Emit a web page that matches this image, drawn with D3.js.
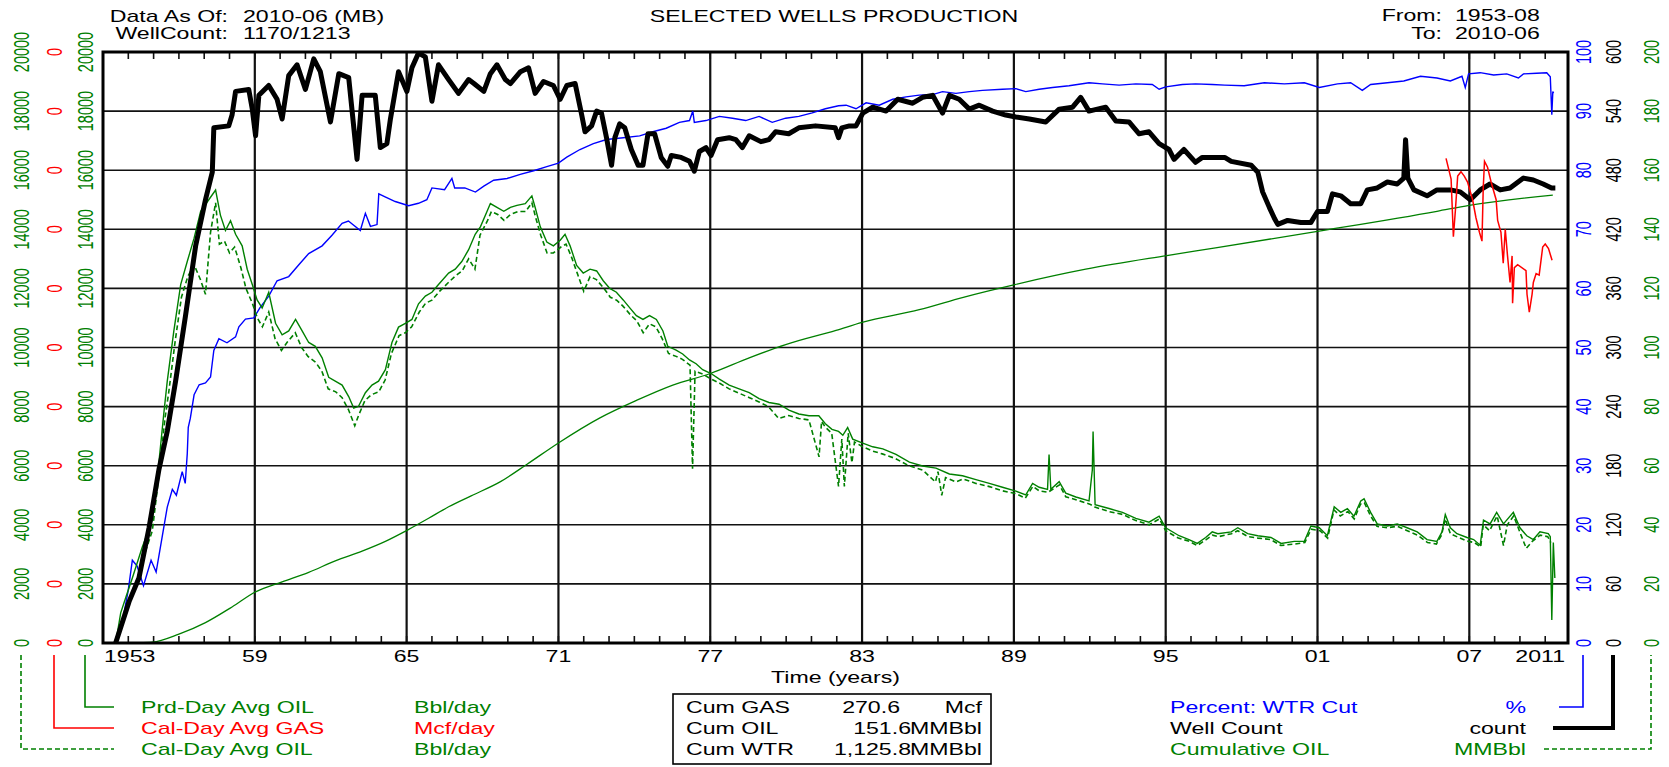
<!DOCTYPE html>
<html><head><meta charset="utf-8">
<script src="https://cdn.jsdelivr.net/npm/d3@7"></script>
<style>body{margin:0;background:#fff;} svg{display:block;font-family:"Liberation Sans",Arial,sans-serif;}</style>
</head><body>
<svg id="chart" width="1669" height="767"></svg>
<script>
// ---------------- DATA ----------------
const wellCount = [ // [year, count]
[1953.5,0],[1954.03,42],[1954.42,66],[1954.82,117],[1955.21,176],[1955.54,215],[1955.87,266],[1956.26,332],[1956.66,403],[1957.05,450],[1957.32,478],[1957.38,523],[1957.97,525],[1958.1,536],[1958.24,560],[1958.76,562],[1958.9,542],[1959.03,515],[1959.16,556],[1959.55,566],[1959.88,552],[1960.08,532],[1960.34,576],[1960.67,587],[1961.0,562],[1961.33,593],[1961.59,580],[1961.99,529],[1962.32,578],[1962.71,574],[1963.04,491],[1963.24,556],[1963.76,556],[1963.96,503],[1964.22,507],[1964.36,532],[1964.68,580],[1965.01,560],[1965.21,584],[1965.47,599],[1965.74,595],[1966.0,550],[1966.26,587],[1966.66,572],[1967.05,558],[1967.45,572],[1967.66,568],[1968.05,560],[1968.31,578],[1968.57,587],[1968.9,572],[1969.1,568],[1969.5,580],[1969.82,584],[1970.08,558],[1970.41,570],[1970.8,566],[1971.07,552],[1971.33,566],[1971.66,568],[1971.92,536],[1972.05,519],[1972.31,525],[1972.51,540],[1972.7,538],[1972.9,513],[1973.1,485],[1973.23,513],[1973.42,527],[1973.62,523],[1973.88,501],[1974.15,485],[1974.34,485],[1974.54,517],[1974.8,517],[1975.06,493],[1975.32,484],[1975.46,495],[1975.85,493],[1976.18,489],[1976.37,479],[1976.57,499],[1976.83,503],[1977.03,495],[1977.29,511],[1977.75,513],[1978.01,511],[1978.27,503],[1978.54,515],[1979.0,509],[1979.32,511],[1979.58,519],[1980.1,517],[1980.5,523],[1981.16,525],[1981.94,523],[1982.07,513],[1982.2,523],[1982.5,525],[1982.76,525],[1983.03,538],[1983.42,544],[1983.95,540],[1984.41,552],[1985.0,548],[1985.39,554],[1985.79,556],[1986.18,538],[1986.45,556],[1986.84,552],[1987.24,542],[1987.63,546],[1988.16,540],[1988.68,536],[1989.08,534],[1989.61,532],[1990.26,529],[1990.79,542],[1991.32,544],[1991.64,554],[1991.97,540],[1992.63,544],[1993.03,530],[1993.55,529],[1993.95,517],[1994.34,519],[1994.74,507],[1995.13,501],[1995.33,491],[1995.72,501],[1996.18,488],[1996.45,493],[1997.33,493],[1997.59,489],[1998.38,485],[1998.64,478],[1998.83,458],[1999.1,442],[1999.3,431],[1999.43,425],[1999.82,429],[2000.34,427],[2000.74,427],[2001.0,438],[2001.39,438],[2001.59,456],[2001.92,454],[2002.31,446],[2002.71,446],[2002.97,460],[2003.36,462],[2003.76,468],[2004.15,466],[2004.41,472],[2004.48,511],[2004.57,472],[2004.81,460],[2005.33,454],[2005.72,460],[2006.25,460],[2006.64,458],[2007.04,450],[2007.43,460],[2007.82,466],[2008.22,460],[2008.61,462],[2009.14,472],[2009.53,470],[2009.92,466],[2010.25,462],[2010.4,462]
];
const waterCut = [ // [year, %]
[1953.83,5],[1954.0,9],[1954.16,14],[1954.35,13],[1954.6,9.7],[1954.9,14],[1955.1,12],[1955.34,18],[1955.54,23],[1955.74,26],[1955.9,25],[1956.13,29],[1956.25,27],[1956.33,32],[1956.37,36.5],[1956.45,38],[1956.6,42],[1956.8,43.7],[1957.05,44],[1957.25,45],[1957.38,49.5],[1957.58,51.5],[1957.9,50.8],[1958.24,51.8],[1958.37,53.5],[1958.63,54.8],[1958.96,55],[1959.2,56.7],[1959.55,58.7],[1959.88,61.3],[1960.34,62],[1960.74,64],[1961.13,65.9],[1961.66,67.2],[1962.05,69],[1962.45,71],[1962.7,71.4],[1963.17,69.8],[1963.37,72.7],[1963.57,70.5],[1963.83,70.8],[1963.9,76],[1964.15,75.5],[1964.55,74.7],[1965.08,74],[1965.47,74.4],[1965.8,75],[1966.0,77],[1966.5,76.7],[1966.79,78.6],[1966.9,77],[1967.3,77],[1967.72,76.3],[1968.05,77.3],[1968.44,78.3],[1968.97,78.6],[1969.49,79.3],[1970.02,79.9],[1970.54,80.6],[1971.0,81.2],[1971.33,82.2],[1971.85,83.5],[1972.38,84.5],[1972.9,85.2],[1973.56,85.5],[1974.21,85.8],[1974.73,86.5],[1975.26,87.1],[1975.78,88.1],[1976.18,88.4],[1976.31,90],[1976.37,88.1],[1976.83,88.4],[1977.36,89.1],[1977.88,88.8],[1978.4,88.4],[1978.93,89.1],[1979.45,88.1],[1979.98,88.8],[1980.5,89.1],[1981.03,89.7],[1981.55,90.4],[1982.07,90.9],[1982.37,91],[1982.76,90.4],[1983.16,91.4],[1983.68,91],[1984.21,92],[1984.74,92.4],[1985.26,92.7],[1985.79,92.8],[1986.18,93.3],[1986.71,93],[1987.24,93.3],[1987.76,93.5],[1988.55,93.7],[1989.08,93.8],[1989.47,93.3],[1990.0,93.7],[1990.53,94],[1991.18,94.3],[1991.97,94.8],[1992.5,94.6],[1993.16,94.4],[1993.82,94.6],[1994.47,94.5],[1994.74,93.7],[1995.0,94.1],[1995.66,94.5],[1996.18,94.6],[1996.84,94.5],[1997.33,94.4],[1998.1,94.3],[1998.9,94.8],[1999.69,94.6],[2000.48,94.8],[2001.07,94],[2001.79,94.6],[2002.31,94.8],[2002.77,93.5],[2003.1,94.5],[2003.76,94.8],[2004.41,95.1],[2005.07,95.9],[2005.72,95.6],[2006.25,95.1],[2006.71,95.9],[2006.84,94],[2006.97,96.3],[2007.43,96.5],[2007.96,96.1],[2008.48,96.3],[2008.94,95.6],[2009.14,96.3],[2009.66,96.4],[2010.06,96.5],[2010.2,95.8],[2010.26,89.4],[2010.3,93.3],[2010.33,93]
];
const prdOil = [ // [year, Bbl/day] producing-day average
[1953.5,0],[1953.7,1020],[1953.9,1540],[1954.16,2200],[1954.55,3240],[1954.95,4160],[1955.21,6120],[1955.41,7820],[1955.54,8860],[1955.8,10560],[1956.07,12130],[1956.33,12910],[1956.6,13700],[1956.86,14610],[1957.18,15000],[1957.45,15330],[1957.64,14480],[1957.84,13960],[1958.04,14290],[1958.24,13830],[1958.5,13440],[1958.7,12650],[1958.9,12130],[1959.09,11610],[1959.29,11340],[1959.55,11870],[1959.82,10820],[1960.08,10430],[1960.34,10560],[1960.61,10950],[1960.87,10560],[1961.13,10170],[1961.39,10040],[1961.66,9650],[1961.92,8990],[1962.18,8860],[1962.45,8730],[1962.71,8340],[1962.91,7950],[1963.1,8010],[1963.37,8470],[1963.63,8730],[1963.89,8860],[1964.16,9250],[1964.42,10170],[1964.68,10690],[1964.95,10820],[1965.21,10950],[1965.47,11480],[1965.74,11740],[1966.0,11870],[1966.26,12130],[1966.66,12520],[1966.92,12650],[1967.18,12910],[1967.45,13310],[1967.71,13830],[1967.92,14090],[1968.18,14610],[1968.31,14870],[1968.57,14740],[1968.84,14610],[1969.1,14740],[1969.36,14810],[1969.69,14870],[1969.95,15130],[1970.08,14740],[1970.28,14090],[1970.54,13570],[1970.8,13440],[1971.07,13630],[1971.26,13830],[1971.46,13440],[1971.72,12780],[1971.98,12520],[1972.25,12650],[1972.51,12590],[1972.77,12260],[1973.03,12000],[1973.29,11870],[1973.56,11610],[1973.82,11340],[1974.08,11080],[1974.34,10950],[1974.6,11080],[1974.87,10950],[1975.13,10560],[1975.32,10040],[1975.65,9910],[1975.91,9780],[1976.18,9580],[1976.44,9450],[1976.7,9250],[1977.03,9120],[1977.36,8930],[1977.75,8730],[1978.14,8600],[1978.54,8470],[1978.93,8270],[1979.32,8140],[1979.72,8080],[1980.11,7880],[1980.5,7750],[1980.9,7690],[1981.29,7690],[1981.55,7420],[1981.81,7230],[1982.07,7160],[1982.24,7030],[1982.43,7290],[1982.63,6900],[1983.0,6770],[1983.42,6640],[1983.82,6570],[1984.34,6380],[1984.87,6120],[1985.39,5990],[1985.92,5920],[1986.45,5720],[1986.97,5660],[1987.5,5530],[1988.03,5400],[1988.55,5270],[1989.08,5140],[1989.47,5010],[1989.74,5400],[1990.0,5270],[1990.33,5200],[1990.39,6380],[1990.46,5200],[1990.79,5460],[1991.05,5070],[1991.45,4940],[1991.97,4810],[1992.1,5860],[1992.13,7160],[1992.21,4680],[1992.76,4550],[1993.29,4420],[1993.82,4220],[1994.34,4090],[1994.74,4290],[1995.0,3900],[1995.53,3630],[1995.92,3500],[1996.25,3370],[1996.58,3570],[1996.84,3760],[1997.06,3700],[1997.59,3760],[1997.85,3900],[1998.24,3700],[1998.64,3630],[1999.16,3570],[1999.56,3370],[2000.08,3440],[2000.48,3440],[2000.74,3960],[2001.07,3900],[2001.39,3630],[2001.66,4610],[2001.92,4420],[2002.18,4550],[2002.44,4290],[2002.71,4810],[2002.84,4880],[2003.1,4420],[2003.36,4030],[2003.76,3960],[2004.15,4030],[2004.54,3900],[2004.94,3760],[2005.33,3500],[2005.72,3440],[2005.92,3760],[2006.05,4350],[2006.25,3900],[2006.51,3700],[2006.91,3570],[2007.17,3500],[2007.43,3310],[2007.56,4160],[2007.82,4030],[2008.08,4420],[2008.35,4030],[2008.74,4420],[2009.0,3900],[2009.27,3630],[2009.53,3500],[2009.79,3760],[2010.12,3700],[2010.2,3600],[2010.26,780],[2010.32,3400],[2010.38,2200]
];
const calOil = [ // [year, Bbl/day] calendar-day average
[1953.55,0],[1953.8,900],[1954.0,1300],[1954.3,1900],[1954.6,2900],[1954.95,3800],[1955.2,5600],[1955.45,7600],[1955.6,8500],[1955.85,10200],[1956.1,11700],[1956.35,12400],[1956.6,12800],[1956.85,12300],[1957.05,11800],[1957.25,13900],[1957.45,14900],[1957.6,13500],[1957.8,13600],[1958.0,13200],[1958.2,13400],[1958.45,12700],[1958.65,12000],[1958.9,11500],[1959.1,11000],[1959.3,10700],[1959.55,11200],[1959.8,10300],[1960.05,9900],[1960.3,10200],[1960.6,10500],[1960.85,10000],[1961.1,9700],[1961.4,9500],[1961.65,9200],[1961.9,8600],[1962.2,8500],[1962.45,8300],[1962.7,7900],[1962.95,7350],[1963.1,7700],[1963.35,8200],[1963.6,8400],[1963.9,8500],[1964.15,8900],[1964.4,9800],[1964.7,10400],[1964.95,10500],[1965.2,10700],[1965.5,11200],[1965.75,11500],[1966.0,11600],[1966.3,11900],[1966.65,12200],[1966.9,12400],[1967.2,12600],[1967.45,13000],[1967.7,12650],[1967.9,13800],[1968.2,14300],[1968.35,14600],[1968.6,14500],[1968.85,14300],[1969.1,14500],[1969.4,14600],[1969.7,14600],[1969.95,14900],[1970.1,14400],[1970.3,13800],[1970.55,13200],[1970.8,13200],[1971.1,13400],[1971.3,13500],[1971.5,13100],[1971.75,12500],[1972.0,11900],[1972.25,12400],[1972.5,12300],[1972.8,12000],[1973.05,11700],[1973.3,11600],[1973.55,11400],[1973.85,11100],[1974.1,10900],[1974.35,10500],[1974.6,10800],[1974.85,10700],[1975.1,10300],[1975.35,9800],[1975.65,9700],[1975.9,9600],[1976.2,9400],[1976.3,5900],[1976.4,9200],[1976.7,9100],[1977.0,8950],[1977.35,8800],[1977.75,8600],[1978.15,8450],[1978.55,8300],[1978.95,8150],[1979.3,8000],[1979.7,7600],[1980.1,7700],[1980.5,7600],[1980.9,7550],[1981.3,6300],[1981.4,7500],[1981.55,7300],[1981.8,7100],[1982.07,5300],[1982.2,6900],[1982.3,5300],[1982.45,7100],[1982.6,6100],[1982.7,6800],[1983.0,6650],[1983.4,6500],[1983.8,6400],[1984.3,6250],[1984.85,6000],[1985.4,5850],[1985.9,5450],[1986.0,5800],[1986.15,5000],[1986.3,5600],[1986.7,5450],[1987.0,5550],[1987.5,5400],[1988.0,5300],[1988.55,5150],[1989.1,5050],[1989.45,4900],[1989.75,5300],[1990.0,5150],[1990.35,5100],[1990.8,5350],[1991.05,4950],[1991.45,4850],[1992.0,4700],[1992.2,4600],[1992.75,4450],[1993.3,4350],[1993.8,4150],[1994.35,4000],[1994.75,4200],[1995.0,3800],[1995.5,3550],[1995.9,3450],[1996.25,3300],[1996.6,3500],[1996.85,3650],[1997.1,3600],[1997.6,3700],[1997.85,3800],[1998.25,3600],[1998.65,3550],[1999.15,3500],[1999.55,3300],[2000.1,3350],[2000.5,3400],[2000.75,3850],[2001.1,3800],[2001.4,3550],[2001.65,4500],[2001.9,4300],[2002.2,4450],[2002.45,4200],[2002.7,4700],[2002.85,4750],[2003.1,4300],[2003.35,3950],[2003.75,3900],[2004.15,3950],[2004.55,3800],[2004.95,3650],[2005.35,3400],[2005.7,3350],[2005.9,3650],[2006.05,4200],[2006.25,3700],[2006.5,3600],[2006.9,3450],[2007.2,3400],[2007.45,3250],[2007.55,4000],[2007.8,3800],[2008.1,4300],[2008.35,3300],[2008.5,4000],[2008.75,4300],[2009.0,3750],[2009.25,3200],[2009.5,3450],[2009.8,3650],[2010.1,3600],[2010.22,3400]
];
const calGas = [ // [year, Mcf/day]
[2006.08,0.164],[2006.28,0.157],[2006.37,0.1375],[2006.45,0.1465],[2006.54,0.158],[2006.67,0.1595],[2006.8,0.158],[2006.93,0.156],[2007.13,0.150],[2007.26,0.144],[2007.4,0.139],[2007.5,0.136],[2007.55,0.154],[2007.6,0.163],[2007.72,0.161],[2007.86,0.156],[2008.06,0.150],[2008.12,0.143],[2008.25,0.139],[2008.34,0.1285],[2008.42,0.140],[2008.51,0.131],[2008.61,0.122],[2008.69,0.131],[2008.71,0.115],[2008.78,0.127],[2008.91,0.128],[2009.24,0.126],[2009.28,0.118],[2009.37,0.112],[2009.48,0.118],[2009.53,0.122],[2009.64,0.125],[2009.76,0.1245],[2009.9,0.134],[2010.0,0.135],[2010.13,0.1335],[2010.27,0.1295]
];
const cumOil = [ // [year, MMBbl]
[1953.5,0],[1954.3,0.1],[1954.95,0.3],[1956.0,3.0],[1957.05,6.9],[1958.1,12.2],[1959.05,17.4],[1960.08,20.7],[1961.13,23.9],[1962.18,27.8],[1963.24,31.1],[1964.16,34.4],[1965.05,38.3],[1965.87,42.2],[1966.66,46.1],[1967.55,49.8],[1968.71,54.6],[1969.76,60.5],[1971.0,67.7],[1972.64,76.2],[1974.08,82.1],[1975.52,87.3],[1977.0,91.2],[1978.54,96.5],[1979.98,101.0],[1981.97,105.8],[1983.0,108.5],[1985.26,112.8],[1987.0,117.0],[1989.04,121.3],[1991.84,126.5],[1995.04,131.1],[1996.97,133.7],[2001.0,139.3],[2005.72,146.1],[2006.99,148.1],[2010.3,151.6]
];
const oilTicks  = [0,2000,4000,6000,8000,10000,12000,14000,16000,18000,20000];
const gasTicks  = [0,0.02,0.04,0.06,0.08,0.1,0.12,0.14,0.16,0.18,0.2];
const pctTicks  = [0,10,20,30,40,50,60,70,80,90,100];
const wellTicks = [0,60,120,180,240,300,360,420,480,540,600];
const cumTicks  = [0,20,40,60,80,100,120,140,160,180,200];
const gridYears = [1959,1965,1971,1977,1983,1989,1995,2001,2007];
const gridYearLabels = ["59","65","71","77","83","89","95","01","07"];
const firstYearLabel = "1953", lastYearLabel = "2011";
const summaryNames = ["Cum GAS","Cum OIL","Cum WTR"];
const summaryValues = ["270.6","151.6","1,125.8"];
const summaryUnits = ["Mcf","MMBbl","MMBbl"];

// ---------------- DRAW ----------------
const svg = d3.select("#chart");
const M = {left:103, right:1568, top:52, bottom:643};
const GREEN="#008000", BLUE="#0000ff", RED="#ff0000";
const SX = 1.36;

const x = d3.scaleLinear().domain([1953, 2010.9]).range([M.left, M.right]);
const yOil = d3.scaleLinear().domain([0,20000]).range([M.bottom, M.top]);
const yGas = d3.scaleLinear().domain([0,0.2]).range([M.bottom, M.top]);
const yPct = d3.scaleLinear().domain([0,100]).range([M.bottom, M.top]);
const yWell = d3.scaleLinear().domain([0,600]).range([M.bottom, M.top]);
const yCum = d3.scaleLinear().domain([0,200]).range([M.bottom, M.top]);

function txt(g, px, py, s, o={}) {
  const size = o.size || 17;
  let tr = `translate(${px},${py}) scale(${o.sx||SX},1)`;
  if (o.rot) tr += " rotate(-90)";
  const t = g.append("text").attr("transform", tr)
    .attr("text-anchor", o.anchor || "start")
    .attr("font-size", size).attr("fill", o.color || "#000").text(s);
  if (o.rot) t.attr("dominant-baseline", "central");
  return t;
}

svg.append("clipPath").attr("id","clip").append("rect")
  .attr("x", M.left).attr("y", M.top).attr("width", M.right-M.left).attr("height", M.bottom-M.top);

// grid
const grid = svg.append("g");
grid.selectAll("line.h").data(oilTicks.slice(1,-1)).join("line")
  .attr("x1", M.left).attr("x2", M.right).attr("y1", d=>yOil(d)).attr("y2", d=>yOil(d))
  .attr("stroke", "#111").attr("stroke-width", 1.6);
grid.selectAll("line.v").data(gridYears).join("line")
  .attr("x1", d=>x(d)).attr("x2", d=>x(d)).attr("y1", M.top).attr("y2", M.bottom)
  .attr("stroke", "#111").attr("stroke-width", 2.2);
const years = d3.range(1954, 2011);
grid.selectAll("line.tt").data(years).join("line")
  .attr("x1", d=>x(d)).attr("x2", d=>x(d)).attr("y1", M.top).attr("y2", M.top+7)
  .attr("stroke","#111").attr("stroke-width",1.6);
grid.selectAll("line.tb").data(years).join("line")
  .attr("x1", d=>x(d)).attr("x2", d=>x(d)).attr("y1", M.bottom-7).attr("y2", M.bottom)
  .attr("stroke","#111").attr("stroke-width",1.6);

// series
const plot = svg.append("g").attr("clip-path","url(#clip)");
const mk = (ys) => d3.line().x(d=>x(d[0])).y(d=>ys(d[1]));
plot.append("path").datum(cumOil).attr("d", mk(yCum).curve(d3.curveMonotoneX)).attr("fill","none").attr("stroke",GREEN).attr("stroke-width",1.3);
plot.append("path").datum(waterCut).attr("d", mk(yPct)).attr("fill","none").attr("stroke",BLUE).attr("stroke-width",1.4);
plot.append("path").datum(calOil).attr("d", mk(yOil)).attr("fill","none").attr("stroke",GREEN).attr("stroke-width",1.6).attr("stroke-dasharray","5,3");
plot.append("path").datum(prdOil).attr("d", mk(yOil)).attr("fill","none").attr("stroke",GREEN).attr("stroke-width",1.4);
plot.append("path").datum(wellCount).attr("d", mk(yWell)).attr("fill","none").attr("stroke","#000").attr("stroke-width",5).attr("stroke-linejoin","round");
plot.append("path").datum(calGas).attr("d", mk(yGas)).attr("fill","none").attr("stroke",RED).attr("stroke-width",1.5);

// frame
svg.append("rect").attr("x", M.left).attr("y", M.top).attr("width", M.right-M.left).attr("height", M.bottom-M.top)
  .attr("fill","none").attr("stroke","#000").attr("stroke-width",3);

// y axis labels (rotated)
const ax = svg.append("g");
function yLabels(ticks, scale, cx, color, fmt) {
  ticks.forEach(t => txt(ax, cx, scale(t), fmt(t), {rot:true, anchor:"middle", size:14.5, sx:1.5, color}));
}
yLabels(oilTicks, yOil, 21, GREEN, d3.format("d"));
yLabels(gasTicks, yGas, 54, RED, d3.format(".0f"));
yLabels(oilTicks, yOil, 85, GREEN, d3.format("d"));
yLabels(pctTicks, yPct, 1583, BLUE, d3.format("d"));
yLabels(wellTicks, yWell, 1613, "#000", d3.format("d"));
yLabels(cumTicks, yCum, 1651, GREEN, d3.format("d"));

// x labels
gridYears.forEach((yv,i) => txt(ax, x(yv), 662, gridYearLabels[i], {anchor:"middle", size:17}));
txt(ax, x(1953)+1, 662, firstYearLabel, {anchor:"start", size:17});
txt(ax, M.right-3, 662, lastYearLabel, {anchor:"end", size:17});
txt(ax, (M.left+M.right)/2, 683, "Time (years)", {anchor:"middle", size:17});

// header
txt(svg, 228, 22, "Data As Of:", {anchor:"end"});
txt(svg, 243, 22, "2010-06 (MB)");
txt(svg, 228, 39, "WellCount:", {anchor:"end"});
txt(svg, 243, 39, "1170/1213");
txt(svg, 834, 22, "SELECTED WELLS PRODUCTION", {anchor:"middle"});
txt(svg, 1442, 21, "From:", {anchor:"end"});
txt(svg, 1455, 21, "1953-08");
txt(svg, 1442, 39, "To:", {anchor:"end"});
txt(svg, 1455, 39, "2010-06");

// legend left
const lg = svg.append("g");
const rowY = [707, 728, 749];
const LS = 17;
lg.append("path").attr("d", `M85,655V${rowY[0]}H114`).attr("fill","none").attr("stroke",GREEN).attr("stroke-width",1.6);
lg.append("path").attr("d", `M54,655V${rowY[1]}H114`).attr("fill","none").attr("stroke",RED).attr("stroke-width",1.6);
lg.append("path").attr("d", `M21,655V${rowY[2]}H114`).attr("fill","none").attr("stroke",GREEN).attr("stroke-width",1.6).attr("stroke-dasharray","5,3");
txt(lg, 141, rowY[0]+6, "Prd-Day Avg OIL", {color:GREEN, size:LS});
txt(lg, 414, rowY[0]+6, "Bbl/day", {color:GREEN, size:LS});
txt(lg, 141, rowY[1]+6, "Cal-Day Avg GAS", {color:RED, size:LS});
txt(lg, 414, rowY[1]+6, "Mcf/day", {color:RED, size:LS});
txt(lg, 141, rowY[2]+6, "Cal-Day Avg OIL", {color:GREEN, size:LS});
txt(lg, 414, rowY[2]+6, "Bbl/day", {color:GREEN, size:LS});

// summary box
lg.append("rect").attr("x",673).attr("y",694).attr("width",318).attr("height",70).attr("fill","none").attr("stroke","#000").attr("stroke-width",1.6);
summaryNames.forEach((n,i)=>{
  txt(lg, 686, rowY[i]+6, n, {size:LS});
  txt(lg, i===0 ? 900 : 911, rowY[i]+6, summaryValues[i], {anchor:"end", size:LS});
  txt(lg, 982, rowY[i]+6, summaryUnits[i], {anchor:"end", size:LS});
});

// legend right
lg.append("path").attr("d", `M1559,${rowY[0]}H1583V655`).attr("fill","none").attr("stroke",BLUE).attr("stroke-width",1.6);
lg.append("path").attr("d", `M1553,${rowY[1]}H1613V655`).attr("fill","none").attr("stroke","#000").attr("stroke-width",4);
lg.append("path").attr("d", `M1544,${rowY[2]}H1651V655`).attr("fill","none").attr("stroke",GREEN).attr("stroke-width",1.6).attr("stroke-dasharray","5,3");
txt(lg, 1170, rowY[0]+6, "Percent: WTR Cut", {color:BLUE, size:LS});
txt(lg, 1526, rowY[0]+6, "%", {color:BLUE, size:LS, anchor:"end"});
txt(lg, 1170, rowY[1]+6, "Well Count", {size:LS});
txt(lg, 1526, rowY[1]+6, "count", {size:LS, anchor:"end"});
txt(lg, 1170, rowY[2]+6, "Cumulative OIL", {color:GREEN, size:LS});
txt(lg, 1526, rowY[2]+6, "MMBbl", {color:GREEN, size:LS, anchor:"end"});
</script>
</body></html>
